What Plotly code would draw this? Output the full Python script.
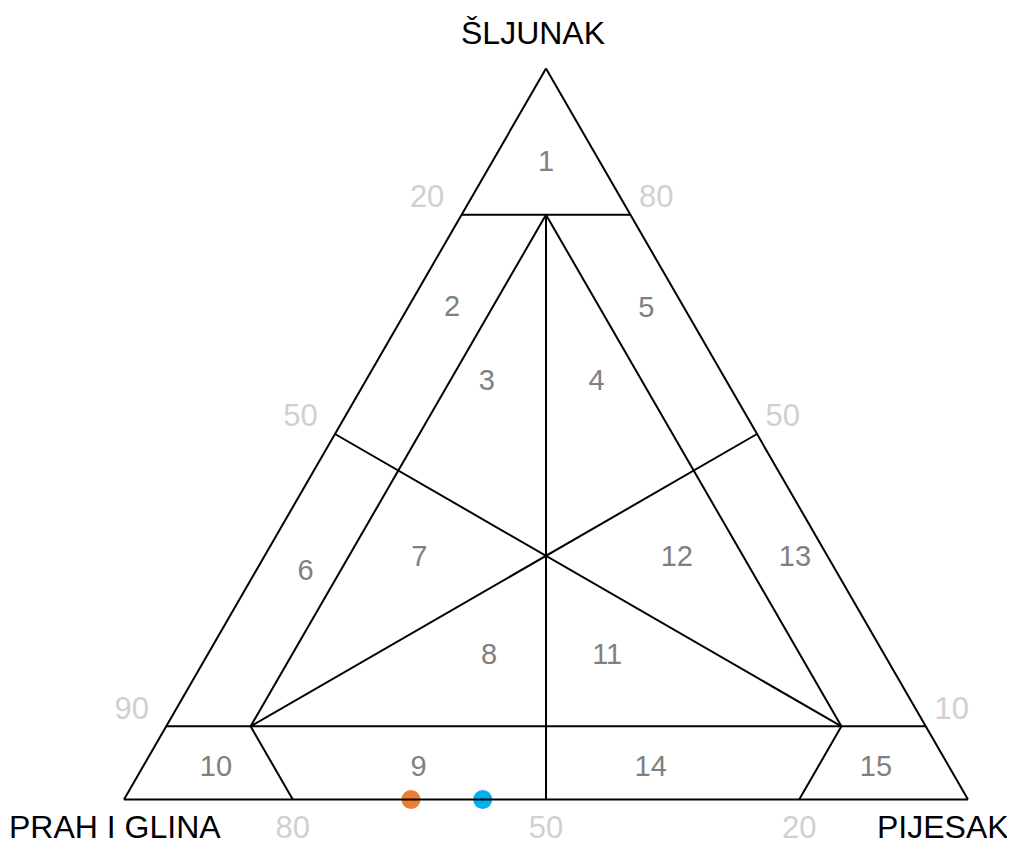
import plotly.graph_objects as go

# ternarni dijagram: a = šljunak, b = prah i glina, c = pijesak (sum = 100)
seg_gravel = [[80, 80], [10, 10], [80, 10], [80, 10], [80, 0],
              [50, 10], [10, 50], [10, 0], [10, 0]]
seg_silt = [[20, 0], [90, 0], [10, 80], [10, 10], [10, 50],
            [50, 10], [80, 0], [80, 80], [10, 20]]
seg_sand = [[0, 20], [0, 90], [10, 10], [10, 80], [10, 50],
            [0, 80], [10, 50], [10, 20], [80, 80]]

region_names = ['1', '2', '3', '4', '5', '6', '7', '8', '9', '10',
                '11', '12', '13', '14', '15']
region_gravel = [87, 67, 57, 57, 67, 31, 33, 19.5, 4.2, 4.2,
                 19.5, 33, 33, 4.2, 4.2]
region_silt = [6.5, 27.5, 28.5, 15.5, 4.6, 63, 48.5, 47, 63, 87,
               33, 18, 4, 35.5, 8.8]
region_sand = [6.5, 5.3, 14.5, 27.5, 28.4, 6, 18.5, 33.5, 32.8, 8.8,
               47.5, 49, 63, 60.3, 87]

sample_gravel = [0, 0]
sample_silt = [66, 57.5]
sample_sand = [34, 42.5]
sample_colors = ['#ED7D31', '#00B0F0']

# oznake uz lijevu i desnu stranicu (na razinama šljunka 80 / 50 / 10)
left_tick_gravel = [80, 50, 10]
left_tick_text = ['20', '50', '90']
right_tick_gravel = [80, 50, 10]
right_tick_text = ['80', '50', '10']
# oznake uz donju stranicu (prah i glina)
bottom_tickvals = [80, 50, 20]
bottom_ticktext = ['80', '50', '20']

FONT = 'Liberation Sans, Arial, sans-serif'
TICK_FONT = dict(family=FONT, size=31, color='#d0d0d0')
NBSP = '\u00a0'


def _join(segs):
    out = []
    for s in segs:
        out += list(s) + [None]
    return out


fig = go.Figure()
fig.add_trace(go.Scatterternary(
    a=_join(seg_gravel), b=_join(seg_silt), c=_join(seg_sand),
    mode='lines', line=dict(color='black', width=2),
    hoverinfo='skip', showlegend=False,
))
fig.add_trace(go.Scatterternary(
    a=region_gravel, b=region_silt, c=region_sand, text=region_names,
    mode='text', textfont=dict(family=FONT, size=29, color='#808080'),
    showlegend=False, hoverinfo='skip',
))
# tick oznake lijevo/desno kao tekst na stranicama trokuta
fig.add_trace(go.Scatterternary(
    a=left_tick_gravel, b=[100 - g for g in left_tick_gravel],
    c=[0] * len(left_tick_gravel),
    text=[t + NBSP * 2 for t in left_tick_text],
    mode='text', textposition='top left', textfont=TICK_FONT,
    cliponaxis=False, showlegend=False, hoverinfo='skip',
))
fig.add_trace(go.Scatterternary(
    a=right_tick_gravel, b=[0] * len(right_tick_gravel),
    c=[100 - g for g in right_tick_gravel],
    text=[NBSP + t for t in right_tick_text],
    mode='text', textposition='top right', textfont=TICK_FONT,
    cliponaxis=False, showlegend=False, hoverinfo='skip',
))
fig.add_trace(go.Scatterternary(
    a=sample_gravel, b=sample_silt, c=sample_sand, mode='markers',
    marker=dict(size=19, color=sample_colors), cliponaxis=False,
    showlegend=False,
))

axis_common = dict(min=0, showgrid=False, linecolor='black', linewidth=2,
                   title=dict(text=''))
title_font = dict(family=FONT, size=32, color='black')
fig.update_layout(
    width=1015, height=843,
    paper_bgcolor='white', plot_bgcolor='white',
    margin=dict(l=115.5, r=54.5, t=60, b=51),
    ternary=dict(
        sum=100, bgcolor='white',
        aaxis=dict(axis_common, showticklabels=False, ticks=''),
        baxis=dict(axis_common, ticks='', tickfont=TICK_FONT,
                   tickmode='array', tickvals=bottom_tickvals,
                   ticktext=bottom_ticktext),
        caxis=dict(axis_common, showticklabels=False, ticks=''),
    ),
    annotations=[
        dict(text='ŠLJUNAK', x=0.4846, y=1.0478, xref='paper', yref='paper',
             xanchor='center', yanchor='middle', showarrow=False, font=title_font),
        dict(text='PRAH I GLINA', x=-0.0101, y=-0.0369, xref='paper', yref='paper',
             xanchor='center', yanchor='middle', showarrow=False, font=title_font),
        dict(text='PIJESAK', x=0.9704, y=-0.0369, xref='paper', yref='paper',
             xanchor='center', yanchor='middle', showarrow=False, font=title_font),
    ],
)

fig.write_html('out.html')
